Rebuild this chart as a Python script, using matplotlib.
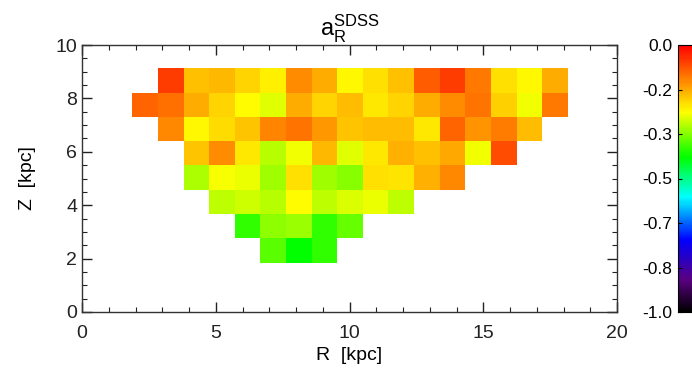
import numpy as np
import matplotlib
matplotlib.use('Agg')
import matplotlib.pyplot as plt
from matplotlib.colors import LinearSegmentedColormap
from matplotlib.ticker import MultipleLocator, FormatStrFormatter

plt.rcParams['font.family'] = ['Liberation Sans', 'DejaVu Sans']
plt.rcParams['mathtext.fontset'] = 'custom'
plt.rcParams['mathtext.rm'] = 'Liberation Sans'

nan = np.nan
# bin edges (kpc)
r_edges = np.linspace(1.88, 18.16, 18)
z_edges = np.linspace(1.85, 9.13, 9)

# a_R values per cell, rows listed from top (highest Z) to bottom
row_z8 = [nan, -0.06, -0.19, -0.18, -0.21, -0.235, -0.14, -0.17, -0.245, -0.22, -0.19, -0.09, -0.06, -0.12, -0.22, -0.245, -0.17]
row_z7 = [-0.10, -0.11, -0.17, -0.21, -0.25, -0.27, -0.17, -0.21, -0.185, -0.23, -0.21, -0.17, -0.14, -0.115, -0.205, -0.26, -0.12]
row_z6 = [nan, -0.135, -0.245, -0.215, -0.195, -0.13, -0.115, -0.15, -0.195, -0.185, -0.185, -0.23, -0.10, -0.145, -0.125, -0.185, nan]
row_z5 = [nan, nan, -0.195, -0.14, -0.23, -0.30, -0.26, -0.18, -0.27, -0.23, -0.175, -0.19, -0.165, -0.26, -0.075, nan, nan]
row_z4 = [nan, nan, -0.305, -0.255, -0.265, -0.315, -0.22, -0.315, -0.33, -0.22, -0.225, -0.175, -0.135, nan, nan, nan, nan]
row_z3 = [nan, nan, nan, -0.295, -0.285, -0.30, -0.25, -0.295, -0.275, -0.265, -0.295, nan, nan, nan, nan, nan, nan]
row_z2 = [nan, nan, nan, nan, -0.39, -0.325, -0.32, -0.39, -0.355, nan, nan, nan, nan, nan, nan, nan, nan]
row_z1 = [nan, nan, nan, nan, nan, -0.36, -0.42, -0.39, nan, nan, nan, nan, nan, nan, nan, nan, nan]

grid = np.array([row_z8, row_z7, row_z6, row_z5, row_z4, row_z3, row_z2, row_z1])[::-1]
grid = np.ma.masked_invalid(grid)

cbar_ticks = [-1.0, -5/6, -4/6, -0.5, -2/6, -1/6, 0.0]

# IDL-like rainbow
cmap = LinearSegmentedColormap.from_list('idl_rainbow', [
    (0.00, (0, 0, 0)),
    (0.12, (0.35, 0, 0.5)),
    (0.27, (0, 0, 1)),
    (0.43, (0, 1, 1)),
    (0.58, (0, 1, 0)),
    (0.75, (1, 1, 0)),
    (1.00, (1, 0, 0)),
])

fig = plt.figure(figsize=(6.92, 3.75), dpi=100)
ax = fig.add_axes([82/692, 1 - 312/375, 535/692, 267/375])
mesh = ax.pcolormesh(r_edges, z_edges, grid, cmap=cmap, vmin=-1, vmax=0)

ax.set_xlim(0, 20)
ax.set_ylim(0, 10)
ax.xaxis.set_major_locator(MultipleLocator(5))
ax.xaxis.set_minor_locator(MultipleLocator(1))
ax.yaxis.set_major_locator(MultipleLocator(2))
ax.yaxis.set_minor_locator(MultipleLocator(0.5))
ax.tick_params(which='both', direction='in', top=True, right=True, labelsize=14, colors='#222222')
ax.tick_params(which='major', length=7, width=1)
ax.tick_params(which='minor', length=3.5, width=0.8)
ax.tick_params(axis='x', pad=9)
for s in ax.spines.values():
    s.set_linewidth(1)
    s.set_color('#333333')

ax.set_xlabel('R  [kpc]', fontsize=14, labelpad=4)
ax.set_ylabel('Z  [kpc]', fontsize=14, labelpad=14)
ax.set_title(r'$\mathrm{a}_\mathrm{R}^\mathrm{SDSS}$', fontsize=17, pad=3)

cax = fig.add_axes([678/692, 1 - 312/375, 0.03, 267/375])
cb = fig.colorbar(mesh, cax=cax, ticks=cbar_ticks)
cax.yaxis.set_ticks_position('left')
cax.yaxis.set_label_position('left')
cb.formatter = FormatStrFormatter('%.1f')
cb.update_ticks()
cax.tick_params(direction='in', length=3, labelsize=12.5, pad=4)
cb.outline.set_linewidth(0.8)

fig.savefig('out.png', dpi=100)
